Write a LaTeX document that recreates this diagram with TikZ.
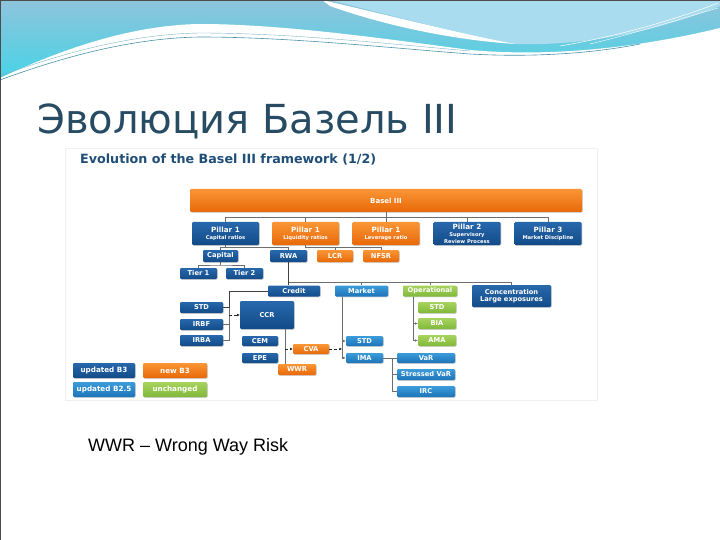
\documentclass[tikz,border=0pt]{standalone}
\usepackage{fontspec}
\setmainfont{DejaVu Sans}
\newfontfamily\titlefont{DejaVu Sans}
\newfontfamily\notefont{Liberation Sans}
\usetikzlibrary{shadows,arrows.meta}

\definecolor{darkTop}{HTML}{2768AC}
\definecolor{darkBot}{HTML}{134B88}
\definecolor{lightTop}{HTML}{3C9CDA}
\definecolor{lightBot}{HTML}{1C74B8}
\definecolor{newTop}{HTML}{FA9636}
\definecolor{newBot}{HTML}{E86808}
\definecolor{sameTop}{HTML}{A8D35E}
\definecolor{sameBot}{HTML}{80B83A}
\definecolor{linkgray}{HTML}{6E6E6E}
\definecolor{titleblue}{HTML}{264B63}
\definecolor{subtitleblue}{HTML}{1F4E79}
\definecolor{waveTop}{HTML}{8EC4DC}
\definecolor{waveBot}{HTML}{44D4E6}
\definecolor{wavePale}{HTML}{A9DCEE}
\definecolor{waveLine}{HTML}{4A93AC}

\newcommand\pillarhead{\bfseries\fontsize{7.2}{7.6}\selectfont}
\newcommand\pillarsub{\fontsize{5.2}{5.6}\selectfont}

\begin{document}
\begin{tikzpicture}[x=1pt,y=-1pt]
% Estilos
\tikzset{chart box/.style={rounded corners=1.2pt,inner sep=0pt,align=center,text=white,font=\bfseries\fontsize{6.7}{7.1}\selectfont,drop shadow={shadow xshift=.8pt,shadow yshift=-.8pt,opacity=.35}},
  dark box/.style={chart box,top color=darkTop,bottom color=darkBot},
  light box/.style={chart box,top color=lightTop,bottom color=lightBot},
  new box/.style={chart box,top color=newTop,bottom color=newBot},
  same box/.style={chart box,top color=sameTop,bottom color=sameBot},
  wh/.style 2 args={minimum width=#1,minimum height=#2},
  legend/.style={font=\bfseries\fontsize{7.2}{8}\selectfont},
  link/.style={draw=linkgray,line width=.5pt},
  arrow link/.style={link,-{Latex[length=2.6pt,width=2.4pt]}},
  dash link/.style={draw=black!85,densely dashed,line width=.9pt,-{Latex[length=2.6pt,width=2.6pt]}}}

\useasboundingbox (0,0) rectangle (720,540);

% Fondo
\shade[top color=waveTop,bottom color=waveBot] (0,0) rectangle (720,82);
\fill[wavePale] (330,0) -- (720,0) -- (720,6) .. controls (660,30) and (590,46) .. (516,44) .. controls (470,36) and (400,18) .. (330,0) -- cycle;
\fill[white] (322,0) .. controls (400,18) and (470,36) .. (516,44) .. controls (450,40) and (380,24) .. (330,6) -- cycle;
\fill[white] (0,78) .. controls (60,50) and (130,25) .. (200,24) .. controls (280,24) and (380,38) .. (470,50) .. controls (560,58) and (650,45) .. (720,28) -- (720,100) -- (0,100) -- cycle;
\draw[waveLine,line width=.6pt] (0,80) .. controls (60,58) and (130,38) .. (200,37) .. controls (290,37) and (390,48) .. (470,54) .. controls (540,58) and (600,52) .. (640,44);
\draw[waveLine!70,line width=.4pt] (0,76) .. controls (60,54) and (130,34) .. (200,33) .. controls (290,33) and (390,44) .. (470,51);
\draw[white,line width=.5pt] (560,46) .. controls (620,36) and (680,18) .. (718,3);
\draw[white,line width=.4pt] (590,44) .. controls (640,32) and (690,16) .. (718,8);
\draw[black!70,line width=.8pt] (0,0) rectangle (720,540);

% Titulos
\node[anchor=base west,inner sep=0pt,font=\titlefont\fontsize{40}{46}\selectfont,text=titleblue] (title) at (37,134) {Эволюция Базель III};
\draw[black!6,line width=.4pt] (65,148) rectangle (597,400);
\node[anchor=west,inner sep=0pt,font=\bfseries\fontsize{12.7}{14}\selectfont,text=subtitleblue] (subtitle) at (80,160) {Evolution of the Basel III framework (1/2)};

% Cajas
\node[new box,wh={392}{23},font=\bfseries\fontsize{7}{7.4}\selectfont] (basel) at (386,200.5) {Basel III};
\node[dark box,wh={67}{23}] (p1cap) at (225.5,233.5) {{\pillarhead Pillar 1}\\{\pillarsub Capital ratios}};
\node[new box,wh={67}{23}] (p1liq) at (305.5,233.5) {{\pillarhead Pillar 1}\\{\pillarsub Liquidity ratios}};
\node[new box,wh={67}{23}] (p1lev) at (386,233.5) {{\pillarhead Pillar 1}\\{\pillarsub Leverage ratio}};
\node[dark box,wh={67}{23}] (p2) at (467,233.5) {{\pillarhead Pillar 2}\\{\pillarsub Supervisory}\\{\pillarsub Review Process}};
\node[dark box,wh={67}{23}] (p3) at (548,233.5) {{\pillarhead Pillar 3}\\{\pillarsub Market Discipline}};

\node[dark box,wh={35}{12}] (capital) at (220.5,256) {Capital};
\node[dark box,wh={37}{12}] (rwa) at (288.5,256) {RWA};
\node[new box,wh={36}{12}] (lcr) at (335,256) {LCR};
\node[new box,wh={36}{12}] (nsfr) at (381,256) {NFSR};
\node[dark box,wh={37}{11}] (tier1) at (198.5,273.5) {Tier 1};
\node[dark box,wh={37}{11}] (tier2) at (244.5,273.5) {Tier 2};

\node[dark box,wh={52}{11}] (credit) at (294,291) {Credit};
\node[light box,wh={53}{11}] (market) at (361.5,291) {Market};
\node[same box,wh={54}{11}] (oper) at (430,291) {Operational};
\node[dark box,wh={79}{22}] (conc) at (511.5,296) {Concentration\\Large exposures};

\node[dark box,wh={43}{11}] (cstd) at (201.5,307.5) {STD};
\node[dark box,wh={43}{11}] (irbf) at (201.5,324.5) {IRBF};
\node[dark box,wh={43}{11}] (irba) at (201.5,340.5) {IRBA};
\node[dark box,wh={54}{28}] (ccr) at (267,315) {CCR};
\node[dark box,wh={36}{10}] (cem) at (260,341) {CEM};
\node[dark box,wh={36}{10}] (epe) at (260,358) {EPE};
\node[new box,wh={36}{10}] (cva) at (311,349) {CVA};
\node[new box,wh={38}{11}] (wwr) at (297,369.5) {WWR};

\node[light box,wh={37}{10}] (mstd) at (364.5,341) {STD};
\node[light box,wh={37}{10}] (ima) at (364.5,358) {IMA};
\node[light box,wh={58}{10}] (var) at (426,358) {VaR};
\node[light box,wh={58}{11}] (svar) at (426,374.5) {Stressed VaR};
\node[light box,wh={58}{11}] (irc) at (426,391.5) {IRC};

\node[same box,wh={38}{11}] (ostd) at (437,307.5) {STD};
\node[same box,wh={38}{11}] (bia) at (437,323.5) {BIA};
\node[same box,wh={38}{11}] (ama) at (437,340.5) {AMA};

% Leyenda
\node[dark box,legend,wh={62}{15}] (legb3) at (104,370.5) {updated B3};
\node[new box,legend,wh={64}{15}] (legnew) at (175,370.5) {new B3};
\node[light box,legend,wh={62}{15}] (legb25) at (104,389.5) {updated B2.5};
\node[same box,legend,wh={64}{15}] (legsame) at (175,389.5) {unchanged};

% Conexiones
\coordinate (bus) at (386,217);
\draw[link] (basel.south) -- (bus);
\draw[link] (p1cap.north|-bus) -- (p3.north|-bus);
\foreach \p in {p1cap,p1liq,p1lev,p2,p3} \draw[link] (\p.north|-bus) -- (\p.north);

\coordinate (capbus) at (225.5,247.5);
\draw[link] (p1cap.south) -- (capbus);
\draw[link] (capital.north) |- (capbus) -| (rwa.north);
\coordinate (liqbus) at (305.5,247.5);
\draw[link] (p1liq.south) -- (liqbus);
\draw[link] (lcr.north) |- (liqbus) -| (nsfr.north);
\coordinate (tierbus) at (220.5,265);
\draw[link] (capital.south) -- (tierbus);
\draw[link] (tier1.north) |- (tierbus) -| (tier2.north);

\coordinate (riskbus) at (288.5,282);
\draw[link,draw=black!75,line width=.7pt] (rwa.south) -- (rwa.south|-credit.north);
\draw[link] (riskbus) -| (conc.north);
\foreach \r in {market,oper} \draw[link] (\r.north|-riskbus) -- (\r.north);

\coordinate (crtrunk) at (229,291);
\draw[link,draw=black!75,line width=.7pt] (credit.west) -- (crtrunk) -- (crtrunk|-cstd.east) -- (cstd.east);
\draw[link] (crtrunk|-cstd.east) -- (crtrunk|-irba.east) -- (irba.east);
\draw[link] (crtrunk|-irbf.east) -- (irbf.east);
\draw[dash link] (crtrunk|-ccr.west) -- (ccr.west);
\draw[link] ([xshift=18pt]ccr.south) -- ([xshift=18pt]ccr.south|-wwr.north);

\coordinate (mtrunk) at (342,296);
\draw[link] (mtrunk|-market.south) -- (mtrunk|-ima.west);
\draw[arrow link] (mtrunk|-mstd.west) -- (mstd.west);
\draw[arrow link] (mtrunk|-ima.west) -- (ima.west);
\draw[dash link] ([xshift=18pt]ccr.south|-cva.west) -- (cva.west);
\draw[dash link] (cva.east) -- (mtrunk|-cva.east);

\coordinate (vartrunk) at (392,358);
\draw[link] (ima.east) -- (var.west);
\draw[link] (vartrunk) -- (vartrunk|-irc.west) -- (irc.west);
\draw[link] (vartrunk|-svar.west) -- (svar.west);

\coordinate (optrunk) at (413,296);
\draw[link] (optrunk|-oper.south) -- (optrunk|-ama.west);
\draw[arrow link] (optrunk|-bia.west) -- (bia.west);
\draw[arrow link] (optrunk|-ama.west) -- (ama.west);

% Nota
\node[anchor=base west,inner sep=0pt,font=\notefont\fontsize{18}{20}\selectfont] (note) at (88,451) {WWR – Wrong Way Risk};
\end{tikzpicture}
\end{document}
